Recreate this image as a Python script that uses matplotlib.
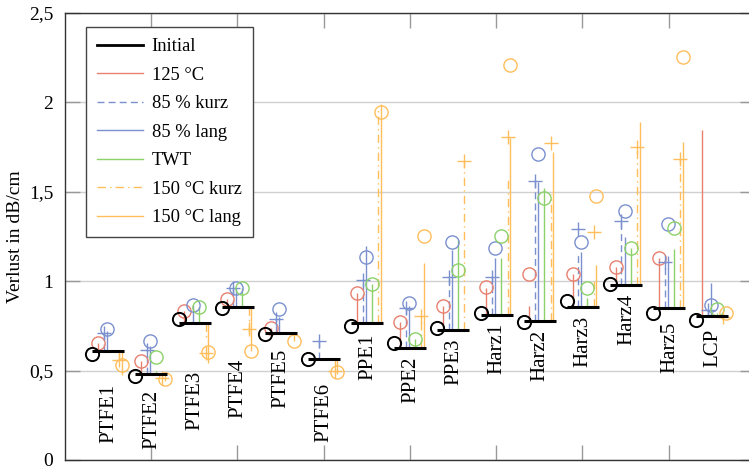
import numpy as np
import matplotlib
matplotlib.use("Agg")
from matplotlib import pyplot as plt
from matplotlib.lines import Line2D

nan = np.nan

cats = ["PTFE1", "PTFE2", "PTFE3", "PTFE4", "PTFE5", "PTFE6", "PPE1", "PPE2",
        "PPE3", "Harz1", "Harz2", "Harz3", "Harz4", "Harz5", "LCP"]

# initial value (line) and initial marker
init_line = [0.610, 0.480, 0.768, 0.854, 0.712, 0.567, 0.764, 0.625,
             0.727, 0.811, 0.777, 0.854, 0.979, 0.852, 0.805]
init_mark = [0.593, 0.470, 0.789, 0.848, 0.703, 0.563, 0.751, 0.653,
             0.736, 0.824, 0.774, 0.889, 0.982, 0.820, 0.783]

# 125 °C
r125_mark = [0.654, 0.555, 0.833, 0.899, 0.736, nan, 0.936, 0.770,
             0.861, 0.969, 1.039, 1.040, 1.081, 1.128, nan]
r125_stem = [0.654, 0.555, 0.833, 0.899, 0.736, nan, 0.936, 0.770,
             0.861, 0.962, 0.863, 1.040, 1.081, 1.128, 1.846]

# 85 % kurz
k85_mark = [0.710, 0.615, nan, 0.964, 0.789, 0.666, 1.007, 0.852,
            1.025, 1.022, 1.562, 1.290, 1.338, 1.106, 0.839]
k85_stem = [0.710, 0.615, nan, 0.964, 0.789, 0.666, 1.007, 0.852,
            1.025, 1.022, 1.562, 1.160, 1.338, 1.118, 0.839]

# 85 % lang
l85_mark = [0.730, 0.665, 0.867, 0.964, 0.843, nan, 1.137, 0.876,
            1.221, 1.184, 1.710, 1.221, 1.394, 1.318, 0.867]
l85_stem = [0.720, 0.640, 0.867, 0.964, 0.800, nan, 1.199, 0.860,
            1.174, 1.128, 1.557, 1.165, 1.249, 1.140, 0.988]

# TWT
twt_mark = [nan, 0.578, 0.857, 0.960, nan, nan, 0.984, 0.677,
            1.063, 1.253, 1.464, 0.960, 1.187, 1.299, 0.843]
twt_stem = [nan, 0.500, 0.857, 0.960, nan, nan, 0.984, 0.677,
            1.230, 1.128, 1.520, 0.906, 1.187, 1.178, 0.820]

# 150 °C kurz
k150_mark = [0.560, 0.460, 0.600, 0.731, nan, 0.497, nan, 0.807,
             1.674, 1.808, 1.775, 1.277, 1.752, 1.683, 0.798]
k150_stem = [0.560, 0.460, 0.680, 0.700, nan, 0.530, 1.976, 0.807,
             1.674, 1.566, 1.490, 1.000, 1.752, 1.683, 0.800]

# 150 °C lang
l150_mark = [0.530, 0.453, 0.602, 0.611, 0.667, 0.494, 1.945, 1.253,
             nan, 2.209, nan, 1.476, nan, 2.252, 0.820]
l150_stem = [0.475, 0.440, 0.545, 0.611, 0.667, 0.480, 1.990, 1.100,
             nan, 1.800, 1.724, 1.090, 1.892, 1.780, 0.810]

red = "#e8806f"
blue = "#7b90cf"
green = "#8cd16a"
orange = "#ffbe5c"

plt.rcParams["font.family"] = ["Liberation Serif", "DejaVu Serif"]

fig = plt.figure(figsize=(7.49, 4.67), dpi=100)
ax = fig.add_axes([64.6 / 749, 7 / 467, 690.4 / 749, 447 / 467])

pos = 0.32 + 0.5 * np.arange(len(cats))

series = [
    (r125_mark, r125_stem, 0.066, red, "-", "o"),
    (k85_mark, k85_stem, 0.133, blue, (0, (5, 3)), "+"),
    (l85_mark, l85_stem, 0.168, blue, "-", "o"),
    (twt_mark, twt_stem, 0.238, green, "-", "o"),
    (k150_mark, k150_stem, 0.313, orange, (0, (6, 3, 1, 3)), "+"),
    (l150_mark, l150_stem, 0.342, orange, "-", "o"),
]

base = np.array(init_line)
for mark, stem, off, col, ls, mk in series:
    stem = np.array(stem)
    ok = ~np.isnan(stem)
    ax.vlines(pos[ok] + off, base[ok], stem[ok], colors=col, linestyles=ls,
              lw=1.0, zorder=2)
    if mk == "o":
        ax.plot(pos + off, mark, ls="none", marker="o", ms=9.5, mfc="none",
                mec=col, mew=1.0, zorder=3)
    else:
        ax.plot(pos + off, mark, ls="none", marker="+", ms=10, mec=col,
                mew=1.0, zorder=3)

ax.hlines(init_line, pos, pos + 0.371, colors="black", lw=2.2, zorder=4)
ax.plot(pos, init_mark, ls="none", marker="o", ms=9.5, mfc="none",
        mec="black", mew=1.4, zorder=5)

# category labels below the lowest point of each group
allvals = np.array([init_line, init_mark] + [s[0] for s in series] +
                   [s[1] for s in series])
lowest = np.nanmin(allvals, axis=0)
for p, low, name in zip(pos, lowest, cats):
    ax.annotate(name, xy=(p + 0.19, low), xytext=(0, -6),
                textcoords="offset points", rotation=90, ha="center",
                va="top", fontsize=15)

ax.set_xlim(0, 8)
ax.set_ylim(0, 2.5)
ax.set_xticks(np.arange(1, 8))
ax.set_xticklabels([])
ax.set_yticks([0, 0.5, 1, 1.5, 2, 2.5])
ax.set_yticklabels(["0", "0,5", "1", "1,5", "2", "2,5"], fontsize=14)
ax.tick_params(axis="both", direction="in", length=11, color="#999999",
               top=True, right=True, width=1)
ax.tick_params(axis="y", pad=8)
ax.grid(axis="y", color="#d0d0d0", lw=1)
ax.set_axisbelow(True)
for sp in ax.spines.values():
    sp.set_color("#333333")
    sp.set_linewidth(1)

fig.text(16 / 749, 0.4925, "Verlust in dB/cm", rotation=90, ha="center",
         va="center", fontsize=14)

handles = [
    Line2D([], [], color="black", lw=2),
    Line2D([], [], color=red, lw=1),
    Line2D([], [], color=blue, lw=1, ls=(0, (5, 3))),
    Line2D([], [], color=blue, lw=1),
    Line2D([], [], color=green, lw=1),
    Line2D([], [], color=orange, lw=1, ls=(0, (6, 3, 1, 3))),
    Line2D([], [], color=orange, lw=1),
]
labels = ["Initial", "125 °C", "85 % kurz", "85 % lang", "TWT",
          "150 °C kurz", "150 °C lang"]
leg = ax.legend(handles, labels, loc="upper left",
                bbox_to_anchor=(0.0306, 0.969), borderaxespad=0,
                fontsize=13.3, handlelength=2.5, handletextpad=0.45,
                labelspacing=0.62, borderpad=0.62, fancybox=False,
                edgecolor="#444444", framealpha=1)
leg.get_frame().set_linewidth(1)

fig.savefig("out.png", dpi=100)
